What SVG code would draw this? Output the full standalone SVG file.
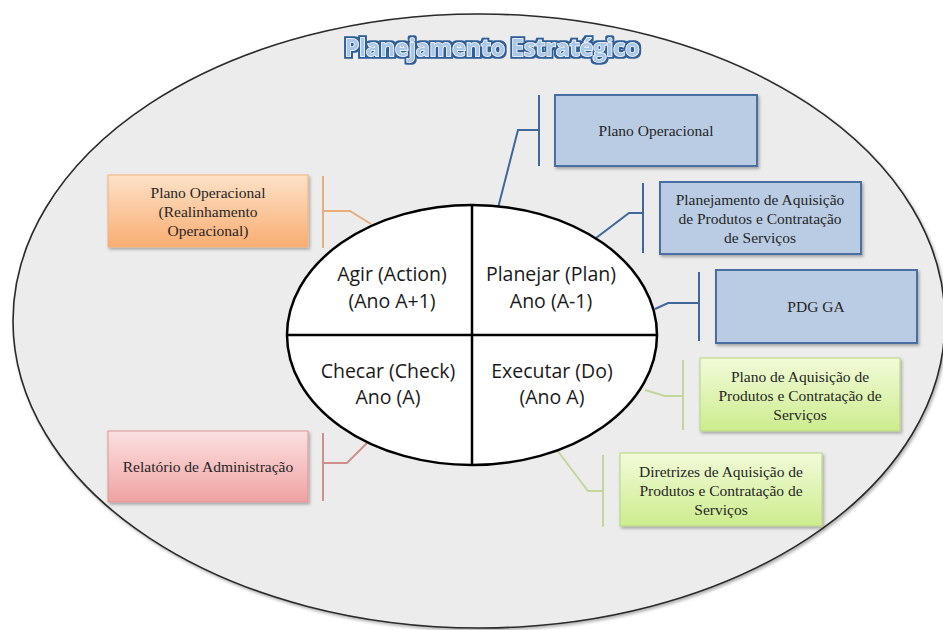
<svg xmlns="http://www.w3.org/2000/svg" width="943" height="630" viewBox="0 0 943 630">
<style>
.box{font-family:"Liberation Serif","Times New Roman",serif;font-size:15.5px;fill:#262626;text-anchor:middle}
.pdca{font-family:"Open Sans","Liberation Sans",sans-serif;font-size:19.5px;fill:#1a1a1a;text-anchor:middle}
.title{font-family:"Open Sans","Liberation Sans",sans-serif;font-weight:bold;font-size:23px;fill:#a9c8ea;stroke:#ffffff;stroke-width:1.4;paint-order:stroke;text-anchor:middle}
.c{fill:none;stroke-width:2}
.cb{stroke:#41669a}
.co{stroke:#e8ad7f}
.cg{stroke:#c3d69b}
.cr{stroke:#cf8f8d}
</style>
<defs>
<linearGradient id="gOr" x1="0" y1="0" x2="0" y2="1"><stop offset="0" stop-color="#fde2c8"/><stop offset="1" stop-color="#f9ad73"/></linearGradient>
<linearGradient id="gRd" x1="0" y1="0" x2="0" y2="1"><stop offset="0" stop-color="#fbe0e0"/><stop offset="1" stop-color="#f0a2a2"/></linearGradient>
<linearGradient id="gGr" x1="0" y1="0" x2="0" y2="1"><stop offset="0" stop-color="#f1fbd9"/><stop offset="1" stop-color="#cdec8e"/></linearGradient>
<filter id="sh" x="-10%" y="-10%" width="125%" height="130%"><feDropShadow dx="1.5" dy="2" stdDeviation="1.5" flood-color="#000" flood-opacity="0.3"/></filter>
<filter id="glow" x="-5%" y="-30%" width="110%" height="160%">
<feMorphology in="SourceAlpha" operator="dilate" radius="1.8" result="d"/>
<feFlood flood-color="#2e5f9a"/><feComposite in2="d" operator="in" result="o"/>
<feGaussianBlur in="o" stdDeviation="0.7" result="ob"/>
<feMerge><feMergeNode in="ob"/><feMergeNode in="SourceGraphic"/></feMerge>
</filter>
</defs>
<rect width="943" height="630" fill="#fff"/>
<g id="outer">
<ellipse cx="479" cy="321" rx="466" ry="307" fill="#ececec" stroke="#2a2a2a" stroke-width="1.6" filter="url(#sh)"/>
<text class="title" x="492" y="56" filter="url(#glow)">Planejamento Estratégico</text>
</g>
<g id="connectors">
<path class="c co" d="M323 176V248M323 211H350L371 224"/>
<path class="c cb" d="M539 95V166M539 130H518L498 208"/>
<path class="c cb" d="M643 183V253M643 213H629L596 238"/>
<path class="c cb" d="M699 272V341M699 303H668L655 309"/>
<path class="c cg" d="M683 360V430M683 396H665L645 390"/>
<path class="c cg" d="M603 455V527M603 491H588L557 450"/>
<path class="c cr" d="M323 433V501M323 463H347L367 443"/>
</g>
<g id="pdca">
<ellipse cx="472" cy="335" rx="185" ry="130" fill="#fff" stroke="#000" stroke-width="2.5"/>
<line x1="472" y1="205" x2="472" y2="465" stroke="#000" stroke-width="2.5"/>
<line x1="287" y1="335" x2="657" y2="335" stroke="#000" stroke-width="2.5"/>
<text class="pdca" x="392" y="281">Agir (Action)</text>
<text class="pdca" x="392" y="308">(Ano A+1)</text>
<text class="pdca" x="551" y="281">Planejar (Plan)</text>
<text class="pdca" x="551" y="308">Ano (A-1)</text>
<text class="pdca" x="388" y="378">Checar (Check)</text>
<text class="pdca" x="388" y="404">Ano (A)</text>
<text class="pdca" x="552" y="378">Executar (Do)</text>
<text class="pdca" x="552" y="404">(Ano A)</text>
</g>
<g id="n-realinhamento">
<rect x="108" y="175" width="200" height="72" fill="url(#gOr)" stroke="#f3b27c" stroke-width="1" filter="url(#sh)"/>
<text class="box" x="208" y="198">Plano Operacional</text>
<text class="box" x="208" y="217">(Realinhamento</text>
<text class="box" x="208" y="236">Operacional)</text>
</g>
<g id="n-plano-operacional">
<rect x="555" y="95" width="202" height="71" fill="#b9cce4" stroke="#4a6ea2" stroke-width="2" filter="url(#sh)"/>
<text class="box" x="656" y="136">Plano Operacional</text>
</g>
<g id="n-planejamento-aquisicao">
<rect x="660" y="182" width="201" height="72" fill="#b9cce4" stroke="#4a6ea2" stroke-width="2" filter="url(#sh)"/>
<text class="box" x="760" y="205">Planejamento de Aquisição</text>
<text class="box" x="760" y="224">de Produtos e Contratação</text>
<text class="box" x="760" y="243">de Serviços</text>
</g>
<g id="n-pdg">
<rect x="716" y="270" width="201" height="73" fill="#b9cce4" stroke="#4a6ea2" stroke-width="2" filter="url(#sh)"/>
<text class="box" x="816" y="312">PDG GA</text>
</g>
<g id="n-plano-aquisicao">
<rect x="700" y="358" width="200" height="73" fill="url(#gGr)" stroke="#b7d580" stroke-width="1" filter="url(#sh)"/>
<text class="box" x="800" y="382">Plano de Aquisição de</text>
<text class="box" x="800" y="401">Produtos e Contratação de</text>
<text class="box" x="800" y="420">Serviços</text>
</g>
<g id="n-diretrizes">
<rect x="620" y="453" width="202" height="73" fill="url(#gGr)" stroke="#b7d580" stroke-width="1" filter="url(#sh)"/>
<text class="box" x="721" y="477">Diretrizes  de Aquisição de</text>
<text class="box" x="721" y="496">Produtos e Contratação de</text>
<text class="box" x="721" y="515">Serviços</text>
</g>
<g id="n-relatorio">
<rect x="108" y="431" width="200" height="71" fill="url(#gRd)" stroke="#d99694" stroke-width="1" filter="url(#sh)"/>
<text class="box" x="208" y="472">Relatório de Administração</text>
</g>
</svg>
